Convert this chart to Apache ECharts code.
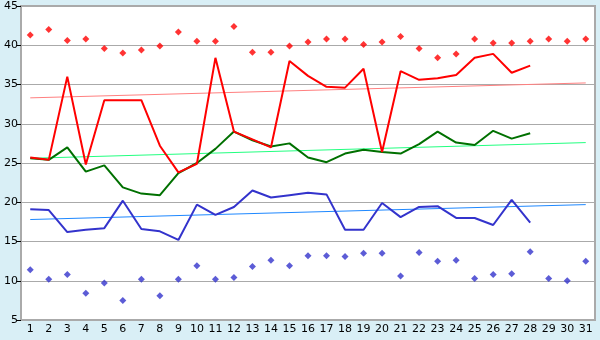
<!DOCTYPE html>
<html>
<head>
<meta charset="utf-8">
<script src="https://cdn.jsdelivr.net/npm/echarts@6/dist/echarts.min.js"></script>
<style>
  html, body { margin: 0; padding: 0; background: #d9eff6; }
  #chart { width: 600px; height: 340px; }
</style>
</head>
<body>
<div id="chart"></div>
<script>
var days = [];
for (var d = 1; d <= 31; d++) days.push(String(d));

var redLine = [25.7, 25.4, 36.0, 24.8, 33.0, 33.0, 33.0, 27.2, 23.8, 24.9,
  38.4, 29.0, 28.0, 27.0, 38.0, 36.1, 34.7, 34.6, 37.0, 26.4,
  36.7, 35.6, 35.8, 36.2, 38.4, 38.9, 36.5, 37.4];
var greenLine = [25.6, 25.4, 27.0, 23.9, 24.7, 21.9, 21.1, 20.9, 23.7, 25.0,
  26.8, 29.0, 27.9, 27.1, 27.5, 25.7, 25.1, 26.2, 26.7, 26.4,
  26.2, 27.4, 29.0, 27.6, 27.3, 29.1, 28.1, 28.8];
var blueLine = [19.1, 19.0, 16.2, 16.5, 16.7, 20.2, 16.6, 16.3, 15.2, 19.7,
  18.4, 19.4, 21.5, 20.6, 20.9, 21.2, 21.0, 16.5, 16.5, 19.9,
  18.1, 19.4, 19.5, 18.0, 18.0, 17.1, 20.3, 17.4];
var redDots = [41.3, 42.0, 40.6, 40.8, 39.6, 39.0, 39.4, 39.9, 41.7, 40.5,
  40.5, 42.4, 39.1, 39.1, 39.9, 40.4, 40.8, 40.8, 40.1, 40.4,
  41.1, 39.6, 38.4, 38.9, 40.8, 40.3, 40.3, 40.5, 40.8, 40.5, 40.8];
var blueDots = [11.4, 10.2, 10.8, 8.4, 9.7, 7.5, 10.2, 8.1, 10.2, 11.9,
  10.2, 10.4, 11.8, 12.6, 11.9, 13.2, 13.2, 13.1, 13.5, 13.5,
  10.6, 13.6, 12.5, 12.6, 10.3, 10.8, 10.9, 13.7, 10.3, 10.0, 12.5];
// trend lines: value at day 1 and day 31
var redTrend = [33.3, 35.2];
var greenTrend = [25.6, 27.6];
var blueTrend = [17.8, 19.7];

function trend(ends) {
  var arr = [];
  for (var i = 0; i < 31; i++) arr.push(null);
  arr[0] = ends[0];
  arr[30] = ends[1];
  return arr;
}

function lineSeries(data, color, width, z) {
  return {
    type: "line",
    data: data,
    symbol: "none",
    connectNulls: true,
    z: z,
    lineStyle: { color: color, width: width },
    animation: false
  };
}

function dotSeries(data, color) {
  return {
    type: "scatter",
    data: data,
    symbol: "diamond",
    symbolSize: 7,
    itemStyle: { color: color },
    z: 5,
    animation: false
  };
}

var chart = echarts.init(document.getElementById("chart"));
chart.setOption({
  backgroundColor: "#d9eff6",
  grid: {
    left: 21, right: 5, top: 6, bottom: 20,
    show: true,
    backgroundColor: "#ffffff",
    borderColor: "#aaaaaa",
    borderWidth: 2
  },
  xAxis: {
    type: "category",
    data: days,
    boundaryGap: true,
    axisLine: { lineStyle: { color: "#aaaaaa", width: 2 } },
    axisTick: { alignWithLabel: true, length: 5, lineStyle: { color: "#000000" } },
    axisLabel: { color: "#000000", fontFamily: "DejaVu Sans", fontSize: 11, margin: 4, interval: 0 },
    splitLine: { show: false }
  },
  yAxis: {
    type: "value",
    min: 5, max: 45, interval: 5,
    axisLine: { show: true, lineStyle: { color: "#aaaaaa", width: 2 } },
    axisTick: { show: true, length: 4, lineStyle: { color: "#000000" } },
    axisLabel: { color: "#000000", fontFamily: "DejaVu Sans", fontSize: 11, margin: 3 },
    splitLine: { lineStyle: { color: "#aaaaaa", width: 1 } }
  },
  series: [
    lineSeries(trend(redTrend), "#ff8080", 1, 2),
    lineSeries(trend(greenTrend), "#22ff80", 1, 2),
    lineSeries(trend(blueTrend), "#1e88ff", 1, 2),
    lineSeries(blueLine, "#3333cc", 2, 3),
    lineSeries(greenLine, "#007000", 2, 3),
    lineSeries(redLine, "#ff0000", 2, 4),
    dotSeries(redDots, "#ff0000"),
    dotSeries(blueDots, "#3333cc")
  ]
});
</script>
</body>
</html>
